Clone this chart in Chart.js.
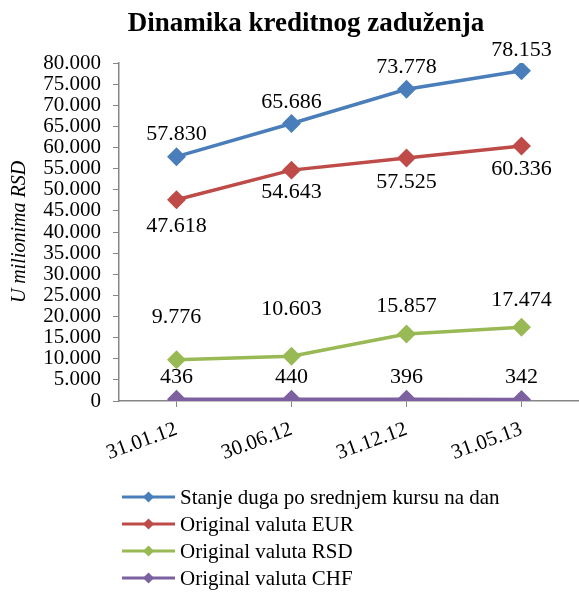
<!DOCTYPE html>
<html>
<head>
<meta charset="utf-8">
<title>Dinamika kreditnog zaduženja</title>
<script src="https://cdn.jsdelivr.net/npm/chart.js@4/dist/chart.umd.min.js"></script>
<style>
    html, body { margin: 0; padding: 0; background: #fff; }
    #wrap { width: 579px; height: 593px; position: relative; }
</style>
</head>
<body>
<div id="wrap"><canvas id="debtChart"></canvas></div>
<script>
const dates = ['31.01.12', '30.06.12', '31.12.12', '31.05.13'];
const totalDebt = [57830, 65686, 73778, 78153];
const eurDebt = [47618, 54643, 57525, 60336];
const rsdDebt = [9776, 10603, 15857, 17474];
const chfDebt = [436, 440, 396, 342];
const seriesNames = [
    'Stanje duga po srednjem kursu na dan',
    'Original valuta EUR',
    'Original valuta RSD',
    'Original valuta CHF'
];

const SERIF = '"Liberation Serif", "Times New Roman", serif';

// 80000 -> "80.000"
function fmt(v) {
    return String(Math.round(v)).replace(/\B(?=(\d{3})+(?!\d))/g, '.');
}

function makeSet(label, data, color, offsets) {
    return {
        label: label,
        data: data,
        borderColor: color,
        backgroundColor: color,
        borderWidth: 3.5,
        pointStyle: 'rectRot',
        pointRadius: 7,
        pointHoverRadius: 7,
        tension: 0,
        labelOffsets: offsets
    };
}

// value labels next to each point
const valueLabels = {
    id: 'valueLabels',
    afterDatasetsDraw(chart) {
        const c = chart.ctx;
        c.save();
        c.font = '22px ' + SERIF;
        c.fillStyle = '#000';
        c.textAlign = 'center';
        c.textBaseline = 'middle';
        chart.data.datasets.forEach(function(ds, i) {
            chart.getDatasetMeta(i).data.forEach(function(pt, j) {
                c.fillText(fmt(ds.data[j]), pt.x, pt.y + ds.labelOffsets[j]);
            });
        });
        c.restore();
    }
};

// title + vertical legend below the axis
const decorations = {
    id: 'decorations',
    afterDraw(chart) {
        const c = chart.ctx;
        c.save();
        c.fillStyle = '#000';
        c.font = 'bold 27px ' + SERIF;
        c.textAlign = 'center';
        c.textBaseline = 'middle';
        c.fillText('Dinamika kreditnog zaduženja', 306, 24);

        c.font = '21px ' + SERIF;
        c.textAlign = 'left';
        chart.data.datasets.forEach(function(ds, i) {
            const y = 497 + i * 27;
            c.strokeStyle = ds.borderColor;
            c.lineWidth = 3;
            c.beginPath();
            c.moveTo(122, y);
            c.lineTo(175, y);
            c.stroke();
            c.fillStyle = ds.borderColor;
            c.beginPath();
            c.moveTo(148.5, y - 5.5);
            c.lineTo(154, y);
            c.lineTo(148.5, y + 5.5);
            c.lineTo(143, y);
            c.closePath();
            c.fill();
            c.fillStyle = '#000';
            c.fillText(ds.label, 180, y + 1);
        });
        c.restore();
    }
};

document.addEventListener('DOMContentLoaded', function() {
    Chart.defaults.font.family = SERIF;
    Chart.defaults.color = '#000';

    const ctx = document.getElementById('debtChart').getContext('2d');
    const debtChart = new Chart(ctx, {
        type: 'line',
        data: {
            labels: dates,
            datasets: [
                makeSet(seriesNames[0], totalDebt, '#4A7EBB', [-22, -21, -22, -21]),
                makeSet(seriesNames[1], eurDebt, '#BE4B48', [26, 22, 24, 23]),
                makeSet(seriesNames[2], rsdDebt, '#98B954', [-42, -47, -28, -27]),
                makeSet(seriesNames[3], chfDebt, '#7D60A0', [-22, -22, -22, -22])
            ]
        },
        options: {
            responsive: true,
            maintainAspectRatio: false,
            animation: false,
            layout: {
                autoPadding: false,
                padding: { top: 63, right: 0, bottom: 132, left: 0 }
            },
            plugins: {
                legend: { display: false },
                title: { display: false },
                tooltip: { enabled: false }
            },
            scales: {
                x: {
                    offset: true,
                    grid: {
                        drawOnChartArea: false,
                        drawTicks: true,
                        tickLength: 6,
                        color: '#868686'
                    },
                    border: { color: '#868686', width: 1.5 },
                    ticks: {
                        minRotation: 20,
                        maxRotation: 20,
                        padding: 10,
                        font: { size: 21 }
                    },
                    afterFit: function(scale) {
                        scale.height = 60;
                        scale.paddingLeft = 0;
                        scale.paddingRight = 0;
                    }
                },
                y: {
                    min: 0,
                    max: 80000,
                    grid: {
                        drawOnChartArea: false,
                        drawTicks: true,
                        tickLength: 6,
                        color: '#868686'
                    },
                    border: { color: '#868686', width: 1.5 },
                    ticks: {
                        stepSize: 5000,
                        autoSkip: false,
                        padding: 12,
                        font: { size: 21 },
                        callback: function(value) { return fmt(value); }
                    },
                    title: {
                        display: true,
                        text: 'U milionima RSD',
                        font: { size: 20, style: 'italic' },
                        padding: { top: 8, bottom: 0 }
                    },
                    afterFit: function(scale) { scale.width = 119; }
                }
            }
        },
        plugins: [valueLabels, decorations]
    });
});
</script>
</body>
</html>
